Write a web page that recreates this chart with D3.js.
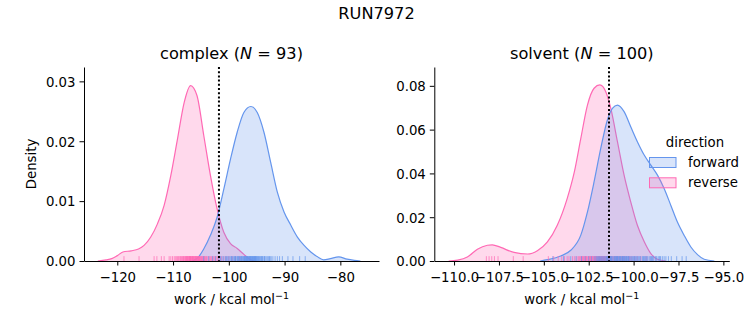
<!DOCTYPE html>
<html>
<head>
<meta charset="utf-8">
<script src="https://cdn.jsdelivr.net/npm/d3@7/dist/d3.min.js"></script>
<style>
  html, body { margin: 0; padding: 0; background: #fff; }
  svg { display: block; }
  text { font-family: "DejaVu Sans", sans-serif; fill: #000; }
</style>
</head>
<body>
<svg id="chart" width="753" height="325"></svg>
<script>
// ---- data -------------------------------------------------------------
const directions = ["forward", "reverse"];
const colors = { forward: "#6495ED", reverse: "#FF69B4" };

// per-sample work values (rug marks); N in the titles comes from these
const complexForward = [
  -104.5, -103.6, -102.9, -102.4, -101.8, -101.5, -101.2, -100.9, -100.6, -100.4,
  -100.2, -100.0, -99.8, -99.6, -99.4, -99.2, -99.0, -98.8, -98.7, -98.5,
  -98.4, -98.2, -98.1, -97.9, -97.8, -97.7, -97.5, -97.4, -97.3, -97.2,
  -97.1, -97.0, -96.9, -96.8, -96.7, -96.6, -96.5, -96.4, -96.3, -96.2,
  -96.1, -96.0, -95.9, -95.8, -95.7, -95.6, -95.5, -95.4, -95.3, -95.2,
  -95.1, -95.0, -94.9, -94.8, -94.6, -94.5, -94.3, -94.2, -94.0, -93.9,
  -93.7, -93.5, -93.3, -93.1, -92.9, -92.6, -92.4, -92.1, -91.7, -91.3,
  -90.9, -90.4, -89.4, -88.5, -87.3, -86.3, -96.85, -96.35, -95.85, -95.35,
  -97.65, -97.15, -96.65, -96.15, -95.65, -95.15, -94.7, -94.1, -98.3, -98.9,
  -99.5, -93.6, -92.7
];
const complexReverse = [
  -118.8, -116.1, -113.4, -112.9, -112.1, -111.6,
  -110.7, -110.4, -110.1, -109.8, -109.6, -109.4, -109.2, -109.0, -108.9, -108.7,
  -108.6, -108.5, -108.3, -108.2, -108.1, -107.9, -107.8, -107.7, -107.6, -107.5,
  -107.4, -107.35, -107.3, -107.2, -107.1, -107.05, -107.0, -106.9, -106.85, -106.8,
  -106.7, -106.6, -106.55, -106.5, -106.4, -106.3, -106.25, -106.2, -106.1, -106.0,
  -105.9, -105.85, -105.8, -105.7, -105.6, -105.5, -105.45, -105.4, -105.3, -105.2,
  -105.1, -105.0, -104.9, -104.8, -104.7, -104.6, -104.5, -104.4, -104.3, -104.2,
  -104.0, -103.9, -103.7, -103.5, -103.3, -103.1, -102.9, -102.7, -102.5, -102.3,
  -102.1, -101.9, -101.6, -101.3, -100.9, -100.5, -100.0, -99.4, -98.8, -98.1,
  -108.05, -107.65, -106.95, -106.45, -105.95, -105.55, -105.25
];
const solventForward = [
  -104.5, -103.9, -103.5, -103.2, -102.9, -102.7, -102.5, -102.35, -102.2, -102.1,
  -102.0, -101.9, -101.8, -101.7, -101.6, -101.5, -101.45, -101.4, -101.35, -101.3,
  -101.25, -101.2, -101.15, -101.1, -101.05, -101.0, -100.95, -100.9, -100.85, -100.8,
  -100.75, -100.7, -100.65, -100.6, -100.55, -100.5, -100.45, -100.4, -100.35, -100.3,
  -100.25, -100.2, -100.1, -100.0, -99.9, -99.8, -99.7, -99.6, -99.5, -99.4,
  -99.3, -99.2, -99.1, -99.0, -98.9, -98.8, -98.7, -98.6, -98.5, -98.4,
  -98.3, -98.2, -98.06, -97.9, -97.6, -97.3, -97.07, -101.75, -101.55, -101.05,
  -100.92, -100.78, -100.62, -100.48, -100.15, -99.95, -99.65, -99.35, -99.05, -98.75,
  -102.05, -101.85, -101.65, -101.22, -100.98, -100.72, -100.38, -99.85, -99.45, -98.55,
  -101.95, -101.48, -101.28, -100.88, -100.58, -100.28, -100.05, -99.75, -99.25, -98.95
];
const solventReverse = [
  -108.2, -108.05, -107.9, -107.75, -107.55, -106.7, -106.15, -104.75, -104.45, -104.2,
  -103.85, -103.7, -103.4, -103.2,
  -103.1, -103.0, -102.9, -102.85, -102.8, -102.7, -102.65, -102.6, -102.5, -102.45,
  -102.4, -102.35, -102.3, -102.25, -102.2, -102.15, -102.1, -102.05, -102.0, -101.95,
  -101.9, -101.85, -101.8, -101.75, -101.7, -101.65, -101.6, -101.55, -101.5, -101.45,
  -101.4, -101.35, -101.3, -101.25, -101.2, -101.1, -101.0, -100.9, -100.8, -100.7,
  -100.6, -100.5, -100.4, -100.3, -100.2, -100.1, -99.95, -99.8, -99.6, -99.3,
  -102.75, -102.55, -102.28, -102.12, -101.98, -101.82, -101.62, -101.38, -101.15, -100.95,
  -103.05, -102.95, -102.68, -102.42, -101.88, -101.58, -101.32, -100.85, -100.55, -100.25,
  -103.3, -103.6, -104.0, -101.72, -101.05, -100.65,
  -102.82, -102.62, -102.48, -102.32, -102.18, -102.08, -101.92, -101.78, -101.68, -101.48
];

// kernel density estimates, [work, density]
const complexForwardDensity = [
  [-106.5, 0], [-105.5, 0.0006], [-104.5, 0.002], [-103.3, 0.0043], [-102.1, 0.0073],
  [-100.9, 0.012], [-99.7, 0.017], [-98.5, 0.0215], [-97.3, 0.0248], [-96.05, 0.0258],
  [-94.9, 0.0248], [-93.7, 0.0215], [-92.5, 0.0165], [-91.3, 0.0115], [-90.1, 0.0082],
  [-88.9, 0.006], [-87.7, 0.004], [-86.5, 0.0026], [-85.3, 0.0015], [-84.1, 0.0007],
  [-83.0, 0.0002], [-81.8, 0.0004], [-80.3, 0.0007], [-78.8, 0.0003], [-77.5, 0.0001], [-76.4, 0]
];
const complexReverseDensity = [
  [-123.5, 0], [-122, 0.0002], [-121, 0.0004], [-120, 0.0009], [-119, 0.0015],
  [-117.5, 0.0017], [-116.2, 0.002], [-115.2, 0.0026], [-114.0, 0.004], [-112.8, 0.0062],
  [-111.6, 0.0093], [-110.4, 0.0143], [-109.2, 0.0204], [-108.0, 0.0265], [-106.85, 0.0293],
  [-105.7, 0.0276], [-104.5, 0.021], [-103.3, 0.0143], [-102.1, 0.0087], [-100.9, 0.0048],
  [-99.7, 0.0029], [-98.5, 0.0021], [-97.3, 0.0011], [-96.1, 0.0002], [-95.5, 0]
];
const solventForwardDensity = [
  [-105.2, 0], [-104.8, 0.0006], [-104.06, 0.0023], [-103.5, 0.0049], [-102.94, 0.0118],
  [-102.57, 0.0224], [-102.2, 0.0362], [-101.83, 0.0514], [-101.46, 0.0644], [-101.18, 0.0697],
  [-100.9, 0.0712], [-100.53, 0.0682], [-100.16, 0.0613], [-99.79, 0.0545], [-99.41, 0.0484],
  [-99.04, 0.0438], [-98.67, 0.0392], [-98.3, 0.0331], [-97.93, 0.0255], [-97.56, 0.0178],
  [-97.19, 0.0118], [-96.81, 0.0064], [-96.44, 0.0029], [-96.07, 0.0008], [-95.5, 0]
];
const solventReverseDensity = [
  [-110.3, 0], [-109.8, 0.0004], [-109.26, 0.0018], [-108.7, 0.0054], [-108.14, 0.0072],
  [-107.87, 0.0074], [-107.4, 0.0062], [-106.66, 0.0039], [-105.9, 0.0032], [-105.36, 0.0047],
  [-104.8, 0.0087], [-104.25, 0.0163], [-103.7, 0.0285], [-103.3, 0.0407], [-102.94, 0.056],
  [-102.57, 0.0712], [-102.2, 0.0789], [-101.88, 0.0804], [-101.55, 0.0773], [-101.27, 0.0697],
  [-100.9, 0.0545], [-100.53, 0.0392], [-100.16, 0.027], [-99.79, 0.0163], [-99.4, 0.0087],
  [-99.04, 0.0034], [-98.67, 0.0008], [-98.2, 0]
];

// free-energy estimate marked by the dotted line
const complexEstimate = -101.77;
const solventEstimate = -101.37;

// axis ticks
const complexXTicks = [-120, -110, -100, -90, -80];
const complexYTicks = [0, 0.01, 0.02, 0.03];
const solventXTicks = [-110, -107.5, -105, -102.5, -100, -97.5, -95];
const solventYTicks = [0, 0.02, 0.04, 0.06, 0.08];

const panels = [
  { name: "complex", fwd: complexForward, rev: complexReverse,
    fwdDens: complexForwardDensity, revDens: complexReverseDensity,
    estimate: complexEstimate, xTicks: complexXTicks, yTicks: complexYTicks,
    xDomain: [-125.97, -73.07], yMax: 0.0324, xFmt: "d", left: 84, ylabel: true },
  { name: "solvent", fwd: solventForward, rev: solventReverse,
    fwdDens: solventForwardDensity, revDens: solventReverseDensity,
    estimate: solventEstimate, xTicks: solventXTicks, yTicks: solventYTicks,
    xDomain: [-111.1, -94.67], yMax: 0.0886, xFmt: ".1f", left: 434.3, ylabel: false }
];

// ---- drawing ----------------------------------------------------------
const svg = d3.select("#chart");
const plotW = 295, plotTop = 67, plotBottom = 261;
const tickFont = 13.3;

svg.append("text")
  .attr("x", 376.5).attr("y", 19)
  .attr("text-anchor", "middle")
  .attr("font-size", 16.2)
  .text("RUN7972");

panels.forEach(p => {
  const x = d3.scaleLinear().domain(p.xDomain).range([p.left, p.left + plotW]);
  const y = d3.scaleLinear().domain([0, p.yMax]).range([plotBottom, plotTop]);
  const g = svg.append("g");

  const area = d3.area().x(d => x(d[0])).y0(y(0)).y1(d => y(d[1])).curve(d3.curveMonotoneX);
  const line = d3.line().x(d => x(d[0])).y(d => y(d[1])).curve(d3.curveMonotoneX);

  // reverse drawn first, forward layered on top
  [["reverse", p.revDens], ["forward", p.fwdDens]].forEach(([dir, dens]) => {
    g.append("path").attr("d", area(dens))
      .attr("fill", colors[dir]).attr("fill-opacity", 0.25).attr("stroke", "none");
    g.append("path").attr("d", line(dens))
      .attr("fill", "none").attr("stroke", colors[dir]).attr("stroke-width", 1.2);
  });

  // rug marks
  const rugH = 0.025 * (plotBottom - plotTop);
  [["reverse", p.rev], ["forward", p.fwd]].forEach(([dir, vals]) => {
    g.append("g").selectAll("line").data(vals).join("line")
      .attr("x1", d => x(d)).attr("x2", d => x(d))
      .attr("y1", plotBottom).attr("y2", plotBottom - rugH)
      .attr("stroke", colors[dir]).attr("stroke-width", 1).attr("stroke-opacity", 0.7);
  });

  // axes
  const xAxis = d3.axisBottom(x).tickValues(p.xTicks).tickSize(4.5).tickSizeOuter(0)
    .tickFormat(d3.format(p.xFmt));
  const gx = g.append("g").attr("transform", `translate(0,${plotBottom})`).call(xAxis);
  gx.selectAll("text").attr("y", 21).attr("dy", null).attr("font-size", tickFont)
    .attr("font-family", "DejaVu Sans");

  const yAxis = d3.axisLeft(y).tickValues(p.yTicks).tickSize(4.5).tickSizeOuter(0)
    .tickFormat(d3.format(".2f"));
  const gy = g.append("g").attr("transform", `translate(${p.left},0)`).call(yAxis);
  gy.selectAll("text").attr("x", -8.5).attr("dy", "0.36em").attr("font-size", tickFont)
    .attr("font-family", "DejaVu Sans");

  [gx, gy].forEach(a => {
    a.selectAll("path, line").attr("stroke", "#000").attr("stroke-width", 1);
    a.selectAll("text").attr("fill", "#000");
  });

  // estimate line
  g.append("line")
    .attr("x1", x(p.estimate)).attr("x2", x(p.estimate))
    .attr("y1", plotTop).attr("y2", plotBottom)
    .attr("stroke", "#000").attr("stroke-width", 2)
    .attr("stroke-dasharray", "2,2.2");

  // title
  const cx = p.left + plotW / 2;
  const t = svg.append("text").attr("x", cx).attr("y", 59)
    .attr("text-anchor", "middle").attr("font-size", 16.2);
  t.append("tspan").text(p.name + " (");
  t.append("tspan").attr("font-style", "italic").text("N");
  t.append("tspan").text(" = " + p.fwd.length + ")");

  // x label
  const xl = svg.append("text").attr("x", cx).attr("y", 304)
    .attr("text-anchor", "middle").attr("font-size", tickFont);
  xl.append("tspan").text("work / kcal mol");
  xl.append("tspan").attr("dy", -5).attr("font-size", 9.5).text("\u22121");

  if (p.ylabel) {
    svg.append("text")
      .attr("transform", `translate(35.5,${(plotTop + plotBottom) / 2}) rotate(-90)`)
      .attr("text-anchor", "middle").attr("font-size", tickFont)
      .text("Density");
  }
});

// legend
const lg = svg.append("g");
lg.append("text").attr("x", 695).attr("y", 146.5).attr("text-anchor", "middle")
  .attr("font-size", tickFont).text("direction");
directions.forEach((dir, i) => {
  const yy = 157.5 + i * 20.3;
  lg.append("rect").attr("x", 649.5).attr("y", yy).attr("width", 26.5).attr("height", 10)
    .attr("fill", colors[dir]).attr("fill-opacity", 0.25)
    .attr("stroke", colors[dir]).attr("stroke-width", 1);
  lg.append("text").attr("x", 688).attr("y", yy + 9.5).attr("font-size", tickFont).text(dir);
});
</script>
</body>
</html>
